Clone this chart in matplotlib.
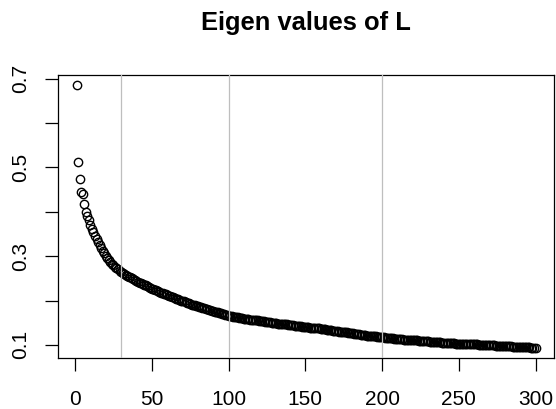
import matplotlib
matplotlib.use("Agg")
import matplotlib.pyplot as plt
import numpy as np

title = "Eigen values of L"
vlines_x = [30, 100, 200]
x_ticks = [0, 50, 100, 150, 200, 250, 300]
y_ticks = [0.1, 0.2, 0.3, 0.4, 0.5, 0.6, 0.7]
y_tick_labels = ["0.1", "", "0.3", "", "0.5", "", "0.7"]

eigen_values = [
    0.685, 0.513, 0.473, 0.445, 0.441, 0.417, 0.400, 0.390, 0.381, 0.370,
    0.362, 0.354, 0.346, 0.338, 0.331, 0.325, 0.318, 0.312, 0.307, 0.301,
    0.296, 0.291, 0.287, 0.283, 0.279, 0.276, 0.273, 0.270, 0.267, 0.265,
    0.263, 0.260, 0.258, 0.256, 0.254, 0.252, 0.250, 0.248, 0.246, 0.244,
    0.242, 0.240, 0.239, 0.237, 0.235, 0.234, 0.232, 0.230, 0.229, 0.227,
    0.226, 0.224, 0.223, 0.221, 0.220, 0.218, 0.217, 0.215, 0.214, 0.212,
    0.211, 0.210, 0.208, 0.207, 0.206, 0.204, 0.203, 0.202, 0.200, 0.199,
    0.198, 0.196, 0.195, 0.194, 0.193, 0.191, 0.190, 0.189, 0.188, 0.187,
    0.186, 0.185, 0.183, 0.182, 0.181, 0.180, 0.179, 0.178, 0.177, 0.176,
    0.175, 0.174, 0.173, 0.172, 0.171, 0.170, 0.169, 0.168, 0.167, 0.166,
    0.164, 0.164, 0.163, 0.163, 0.162, 0.162, 0.161, 0.160, 0.160, 0.159,
    0.159, 0.158, 0.158, 0.157, 0.157, 0.156, 0.156, 0.155, 0.155, 0.154,
    0.154, 0.153, 0.153, 0.152, 0.152, 0.151, 0.151, 0.150, 0.150, 0.149,
    0.149, 0.148, 0.148, 0.147, 0.147, 0.146, 0.146, 0.146, 0.145, 0.145,
    0.144, 0.144, 0.143, 0.143, 0.143, 0.142, 0.142, 0.141, 0.141, 0.141,
    0.140, 0.140, 0.139, 0.139, 0.138, 0.138, 0.138, 0.137, 0.137, 0.136,
    0.136, 0.135, 0.135, 0.134, 0.134, 0.133, 0.133, 0.132, 0.132, 0.131,
    0.131, 0.130, 0.130, 0.129, 0.129, 0.128, 0.128, 0.127, 0.127, 0.126,
    0.126, 0.125, 0.125, 0.124, 0.124, 0.123, 0.123, 0.122, 0.122, 0.121,
    0.121, 0.120, 0.120, 0.119, 0.119, 0.119, 0.118, 0.118, 0.117, 0.117,
    0.117, 0.116, 0.116, 0.116, 0.115, 0.115, 0.115, 0.114, 0.114, 0.114,
    0.113, 0.113, 0.113, 0.112, 0.112, 0.112, 0.111, 0.111, 0.111, 0.110,
    0.110, 0.110, 0.110, 0.109, 0.109, 0.109, 0.108, 0.108, 0.108, 0.108,
    0.107, 0.107, 0.107, 0.107, 0.106, 0.106, 0.106, 0.106, 0.105, 0.105,
    0.105, 0.105, 0.105, 0.104, 0.104, 0.104, 0.104, 0.103, 0.103, 0.103,
    0.103, 0.103, 0.102, 0.102, 0.102, 0.102, 0.102, 0.101, 0.101, 0.101,
    0.101, 0.101, 0.100, 0.100, 0.100, 0.100, 0.100, 0.099, 0.099, 0.099,
    0.099, 0.099, 0.099, 0.098, 0.098, 0.098, 0.098, 0.098, 0.097, 0.097,
    0.097, 0.097, 0.097, 0.097, 0.096, 0.096, 0.096, 0.096, 0.096, 0.096,
    0.095, 0.095, 0.095, 0.095, 0.095, 0.095, 0.094, 0.094, 0.094, 0.094,
]
index = list(range(1, len(eigen_values) + 1))

plt.rcParams['font.family'] = ['Liberation Sans', 'DejaVu Sans']

fig = plt.figure(figsize=(5.56, 4.09), dpi=100)
ax = fig.add_axes([0.1047, 0.1247, 0.8915, 0.692])

ax.plot(index, eigen_values, linestyle='none', marker='o', markersize=6.0,
        markerfacecolor='none', markeredgecolor='black', markeredgewidth=1.0,
        zorder=2)
for xv in vlines_x:
    ax.axvline(xv, color='#BEBEBE', linewidth=0.9, zorder=3)

# R-style 4% padding
xmin, xmax = min(index), max(index)
ymin, ymax = min(eigen_values), max(eigen_values)
dx = (xmax - xmin) * 0.04
dy = (ymax - ymin) * 0.04
ax.set_xlim(xmin - dx, xmax + dx)
ax.set_ylim(ymin - dy, ymax + dy)

ax.set_xticks(x_ticks)
ax.set_xticklabels([str(t) for t in x_ticks])
ax.set_yticks(y_ticks)
ax.set_yticklabels(y_tick_labels, rotation=90, va='center')

ax.tick_params(axis='both', direction='out', length=9.4, width=0.9,
               labelsize=15.0, color='black')
ax.tick_params(axis='x', pad=13.5)
ax.tick_params(axis='y', pad=10.5)
for s in ax.spines.values():
    s.set_linewidth(0.9)
    s.set_color('black')

fig.text(0.5 * (0.1047 + 0.1047 + 0.8915), 1 - 30 / 409, title,
         ha='center', va='baseline', fontsize=18.4, fontweight='bold')

fig.savefig("out.png", dpi=100)
